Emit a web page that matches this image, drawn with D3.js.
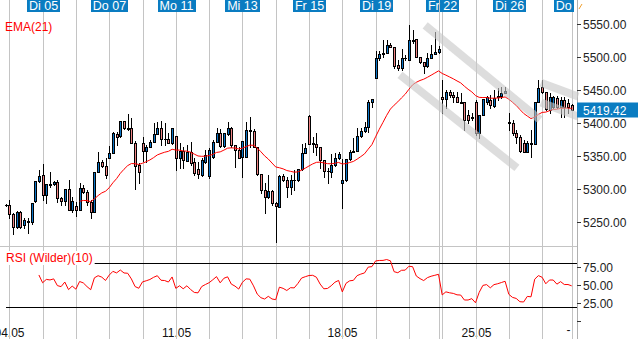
<!DOCTYPE html>
<html><head><meta charset="utf-8">
<script src="https://cdn.jsdelivr.net/npm/d3@7"></script>
<style>
body{margin:0;background:#fff;overflow:hidden;}
svg{display:block;font-family:"Liberation Sans",Arial,sans-serif;}
</style></head><body>
<svg id="chart" width="638" height="339"></svg>
<script>
// Hourly OHLC bars, 04.05 – 28.05
const open  = [5276,5276,5262,5243,5265,5246,5250,5250,5282,5312,5321,5291,5307,5308,5311,5286,5282,5300,5268,5274,5268,5302,5296,5280,5265,5326,5341,5335,5347,5355,5383,5380,5403,5392,5392,5370,5336,5370,5358,5364,5371,5383,5392,5376,5376,5370,5380,5347,5358,5342,5356,5341,5330,5321,5341,5320,5349,5371,5385,5365,5383,5392,5367,5359,5349,5349,5389,5388,5364,5323,5298,5288,5297,5279,5272,5320,5314,5303,5314,5313,5330,5355,5411,5368,5368,5364,5344,5327,5326,5336,5347,5309,5314,5345,5356,5358,5380,5388,5394,5432,5468,5498,5505,5506,5518,5515,5488,5483,5498,5496,5526,5527,5500,5492,5486,5498,5504,5508,5439,5436,5447,5442,5439,5432,5432,5412,5409,5432,5385,5412,5432,5435,5426,5440,5441,5446,5400,5400,5385,5379,5370,5356,5370,5368,5432,5455,5447,5420,5424,5438,5424,5435,5431,5427];
const high  = [5277,5283,5264,5267,5267,5256,5256,5279,5312,5329,5338,5308,5326,5312,5314,5288,5300,5314,5288,5280,5309,5306,5298,5283,5326,5356,5344,5347,5365,5386,5386,5403,5403,5414,5408,5372,5339,5379,5367,5374,5400,5402,5403,5400,5385,5392,5380,5370,5364,5367,5371,5347,5341,5347,5359,5362,5374,5392,5391,5385,5402,5394,5367,5363,5373,5402,5409,5391,5364,5323,5309,5321,5298,5280,5321,5323,5318,5321,5329,5330,5368,5370,5412,5379,5385,5364,5344,5332,5353,5355,5356,5345,5346,5359,5377,5392,5392,5402,5435,5436,5509,5509,5526,5526,5521,5515,5496,5512,5503,5548,5541,5527,5500,5492,5506,5518,5538,5517,5465,5450,5450,5447,5447,5445,5432,5420,5415,5435,5412,5436,5441,5442,5450,5453,5455,5455,5415,5405,5389,5382,5374,5373,5389,5432,5465,5465,5447,5446,5441,5441,5439,5439,5436,5429];
const low   = [5275,5256,5232,5241,5241,5241,5233,5247,5280,5311,5283,5279,5303,5306,5280,5276,5276,5268,5265,5259,5268,5294,5276,5256,5265,5326,5333,5317,5347,5355,5367,5379,5391,5389,5370,5300,5309,5342,5341,5364,5371,5383,5367,5367,5370,5368,5329,5332,5332,5342,5336,5321,5317,5320,5339,5317,5347,5371,5364,5364,5382,5364,5333,5347,5318,5349,5364,5364,5321,5294,5264,5286,5276,5220,5272,5312,5288,5293,5298,5312,5329,5355,5368,5356,5352,5332,5318,5309,5318,5335,5346,5271,5312,5344,5356,5358,5379,5386,5386,5424,5468,5496,5500,5506,5515,5483,5480,5480,5495,5496,5521,5500,5491,5476,5485,5498,5504,5506,5415,5423,5439,5432,5432,5430,5389,5400,5405,5382,5377,5412,5429,5423,5424,5435,5438,5445,5389,5382,5370,5356,5356,5356,5349,5368,5432,5446,5419,5415,5422,5422,5409,5409,5415,5419];
const close = [5276,5262,5243,5265,5243,5253,5251,5279,5312,5320,5291,5308,5306,5311,5286,5282,5300,5268,5282,5268,5302,5296,5280,5265,5326,5341,5335,5321,5355,5385,5379,5403,5392,5391,5370,5335,5326,5358,5364,5371,5383,5392,5376,5375,5370,5392,5347,5358,5344,5356,5339,5324,5322,5344,5352,5359,5371,5385,5365,5385,5392,5367,5359,5347,5373,5389,5388,5364,5323,5298,5288,5297,5279,5274,5320,5314,5303,5314,5313,5330,5355,5362,5368,5369,5364,5344,5327,5328,5336,5347,5353,5314,5345,5356,5358,5380,5388,5394,5432,5436,5498,5505,5506,5518,5515,5486,5483,5498,5499,5526,5525,5500,5492,5486,5498,5504,5508,5512,5436,5447,5442,5439,5432,5431,5405,5405,5408,5385,5412,5436,5439,5427,5438,5441,5445,5449,5402,5385,5379,5358,5356,5370,5368,5432,5453,5447,5421,5440,5440,5424,5435,5424,5424,5419.42];

// Session starts (bar index) and their names
const dayIndex  = [1,10,19,28,37,46,55,64,73,82,91,100,109,117,118,127,136,145,153];
const dayNames  = ["Mo 04","Di 05","Mi 06","Do 07","Fr 08","Mo 11","Di 12","Mi 13","Do 14","Fr 15","Mo 18","Di 19","Mi 20","Do 21","Fr 22","Mo 25","Di 26","Mi 27","Do 28"];
const labeledDays = ["Di 05","Do 07","Mo 11","Mi 13","Fr 15","Di 19","Fr 22","Di 26","Do 28"];
const weekIndex  = [1,46,91,127];
const weekLabels = ["04.05","11.05","18.05","25.05"];
const priceTicks = [5250,5300,5350,5400,5450,5500,5550];
const rsiTicks   = [0,25,50,75];
const rsiLevels  = [20,80];
const lastPrice  = 5419.42;

// Drawn channels: [[barIndex, price], [barIndex, price]]
const channels = [
  [[113.4,5548],[144.4,5405]],
  [[106.6,5473],[138.2,5332]],
  [[144.7,5461],[154.7,5440]],
  [[144.7,5431],[154.7,5410]]
];

const W = 638, H = 339, axisX = 577;
const svg = d3.select("#chart");
const x = d3.scaleLinear().domain([1,153]).range([9.3,571.7]);
const y = d3.scaleLinear().domain([5250,5550]).range([222,24]);
const yR = d3.scaleLinear().domain([0,100]).range([321,249]);
const px = i => Math.round(x(i)) + 0.5;

const bars = close.map((c,i)=>({i, o:open[i], h:high[i], l:low[i], c}));

// EMA(21), seeded with simple average
const N = 21, k = 2/(N+1);
const ema = [];
let e = null;
close.forEach((c,i)=>{
  if (i === N-1) e = d3.mean(close.slice(0,N));
  else if (i >= N) e = c*k + e*(1-k);
  if (e !== null) ema.push({i, v:e});
});

// RSI (Wilder) 10
const P = 10, rsi = [];
let ag = 0, al = 0;
for (let i=1;i<close.length;i++){
  const d = close[i]-close[i-1], g = Math.max(d,0), l = Math.max(-d,0);
  if (i < P){ ag += g/P; al += l/P; if (i===P-1) rsi.push({i, v: 100 - 100/(1+ag/al)}); }
  else { ag = (ag*(P-1)+g)/P; al = (al*(P-1)+l)/P; rsi.push({i, v: al===0?100:100 - 100/(1+ag/al)}); }
}

// Day grid
const labeledSet = new Set(labeledDays);
const gridG = svg.append("g").attr("shape-rendering","crispEdges");
dayIndex.forEach((d,j)=>{
  gridG.append("line").attr("x1",px(d)).attr("x2",px(d)).attr("y1",0).attr("y2",H)
    .attr("stroke","#c4c4c4");
});

// panel separator and right axis line
svg.append("line").attr("x1",0).attr("x2",axisX).attr("y1",246.5).attr("y2",246.5)
  .attr("stroke","#c4c4c4").attr("shape-rendering","crispEdges");
svg.append("line").attr("x1",axisX+0.5).attr("x2",axisX+0.5).attr("y1",0).attr("y2",H)
  .attr("stroke","#b0b0b0").attr("shape-rendering","crispEdges");

// Candles
const cg = svg.append("g").attr("shape-rendering","crispEdges");
bars.forEach(b=>{
  const cx = Math.round(x(b.i));
  cg.append("line").attr("x1",cx+0.5).attr("x2",cx+0.5)
    .attr("y1",Math.round(y(b.h))).attr("y2",Math.round(y(b.l))+1).attr("stroke","#000");
  const t = Math.round(y(Math.max(b.o,b.c))), bt = Math.round(y(Math.min(b.o,b.c)));
  if (bt - t < 1) {
    cg.append("line").attr("x1",cx-1).attr("x2",cx+2).attr("y1",t+0.5).attr("y2",t+0.5).attr("stroke","#000");
  } else {
    cg.append("rect").attr("x",cx-0.5).attr("y",t+0.5).attr("width",2).attr("height",bt-t)
      .attr("fill", b.c>=b.o ? "#0a74c6" : "#f08484").attr("stroke","#000");
  }
});

// EMA line
svg.append("path").datum(ema)
  .attr("d", d3.line().x(d=>x(d.i)).y(d=>y(d.v)))
  .attr("fill","none").attr("stroke","#ff0000").attr("stroke-width",1);

// Channels
svg.append("g").selectAll("line").data(channels).join("line")
  .attr("x1",d=>x(d[0][0])).attr("y1",d=>y(d[0][1]))
  .attr("x2",d=>x(d[1][0])).attr("y2",d=>y(d[1][1]))
  .attr("stroke","#c8c8c8").attr("stroke-opacity",0.62).attr("stroke-width",8);

// RSI panel
svg.append("g").selectAll("line").data(rsiLevels).join("line")
  .attr("x1",6).attr("x2",axisX).attr("y1",d=>Math.round(yR(d))+0.5).attr("y2",d=>Math.round(yR(d))+0.5)
  .attr("stroke","#000").attr("shape-rendering","crispEdges");
svg.append("path").datum(rsi)
  .attr("d", d3.line().x(d=>x(d.i)).y(d=>yR(d.v)))
  .attr("fill","none").attr("stroke","#ff0000").attr("stroke-width",1);

// Indicator titles
svg.append("text").attr("x",5).attr("y",31).attr("fill","#ff0000").attr("font-size",12).text("EMA(21)");
const rsiTitle = svg.append("text").attr("x",6).attr("y",262).attr("fill","#ff0000").attr("font-size",12).text("RSI (Wilder)(10)");
const rb = rsiTitle.node().getBBox();
svg.insert("rect", "text:last-of-type").attr("x",rb.x-1).attr("y",rb.y).attr("width",rb.width+3).attr("height",rb.height).attr("fill","#fff");

// Price axis
const ax = svg.append("g");
priceTicks.forEach(v=>{
  const yy = Math.round(y(v))+0.5;
  ax.append("line").attr("x1",axisX).attr("x2",axisX+4).attr("y1",yy).attr("y2",yy).attr("stroke","#333").attr("shape-rendering","crispEdges");
  ax.append("text").attr("x",axisX+6).attr("y",yy).attr("dy","0.36em").attr("font-size",12).attr("fill","#222").text(v.toFixed(2));
});
rsiTicks.forEach(v=>{
  const yy = Math.round(yR(v))+0.5;
  ax.append("line").attr("x1",axisX).attr("x2",axisX+4).attr("y1",yy).attr("y2",yy).attr("stroke","#333").attr("shape-rendering","crispEdges");
  if (v>0) ax.append("text").attr("x",axisX+6).attr("y",yy).attr("dy","0.36em").attr("font-size",12).attr("fill","#222").text(v.toFixed(2));
});
// last price marker
const ly = y(lastPrice);
ax.append("rect").attr("x",axisX).attr("y",Math.round(ly)-7.5).attr("width",W-axisX).attr("height",15).attr("fill","#0a7cc1");
ax.append("text").attr("x",axisX+6).attr("y",ly).attr("dy","0.36em").attr("font-size",12).attr("fill","#fff").text(lastPrice.toFixed(2));

// Top day labels
svg.append("clipPath").attr("id","plotclip").append("rect").attr("x",0).attr("y",0).attr("width",axisX-3).attr("height",H);
const tl = svg.append("g").attr("clip-path","url(#plotclip)");
dayIndex.forEach((d,j)=>{
  if (!labeledSet.has(dayNames[j])) return;
  const cx = px(d);
  const t = tl.append("text").attr("x",cx).attr("y",10).attr("text-anchor","middle")
    .attr("font-size",12.5).attr("fill","#fff").text(dayNames[j]);
  const w = t.node().getComputedTextLength();
  tl.insert("rect","text:last-of-type").attr("x",Math.round(cx-w/2-2)).attr("y",0)
    .attr("width",Math.round(w+4)).attr("height",12).attr("fill","#0a7cc1");
});
// unlabeled sessions keep their grid line visible over the labels
dayIndex.forEach((d,j)=>{
  if (labeledSet.has(dayNames[j])) return;
  svg.append("line").attr("x1",px(d)).attr("x2",px(d)).attr("y1",0).attr("y2",12)
    .attr("stroke","#c4c4c4").attr("shape-rendering","crispEdges");
});
svg.append("line").attr("x1",579).attr("y1",9).attr("x2",582).attr("y2",4).attr("stroke","#f0a030");

// Bottom week labels (grid lines pass over them)
const bl = svg.insert("g", "g");
weekIndex.forEach((d,j)=>{
  bl.append("text").attr("x",px(d)).attr("y",337).attr("text-anchor","middle")
    .attr("font-size",12).attr("fill","#111").text(weekLabels[j]);
});
bl.append("text").attr("x",px(152)).attr("y",334).attr("text-anchor","middle").attr("font-size",12).attr("fill","#111").text("-");
</script>
</body></html>
